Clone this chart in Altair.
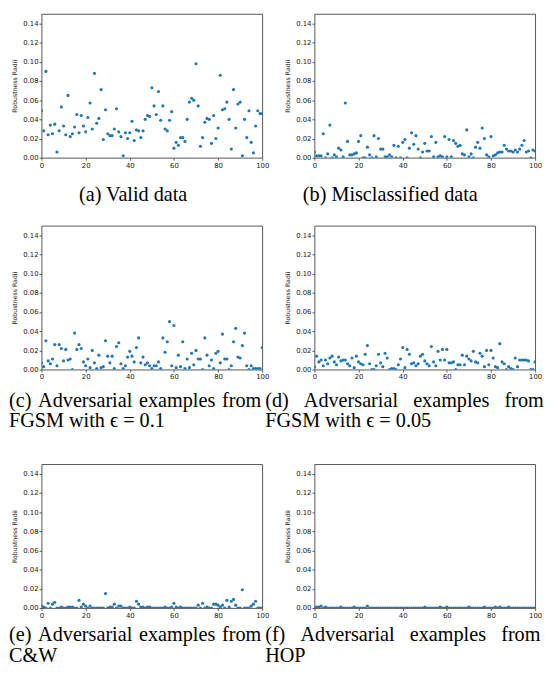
import altair as alt
import pandas as pd

x_ticks = [0, 20, 40, 60, 80, 100]
y_ticks = [0.00, 0.02, 0.04, 0.06, 0.08, 0.10, 0.12, 0.14]
y_title = "Robustness Radii"

valid = [0.049, 0.028, 0.090, 0.024, 0.034, 0.025, 0.035, 0.006, 0.028, 0.053,
         0.033, 0.024, 0.065, 0.022, 0.025, 0.032, 0.045, 0.026, 0.044, 0.033,
         0.027, 0.042, 0.057, 0.030, 0.088, 0.036, 0.041, 0.071, 0.019, 0.050,
         0.025, 0.023, 0.023, 0.030, 0.051, 0.027, 0.022, 0.002, 0.026, 0.020,
         0.026, 0.038, 0.018, 0.029, 0.028, 0.021, 0.028, 0.040, 0.044, 0.043,
         0.073, 0.054, 0.045, 0.069, 0.039, 0.054, 0.030, 0.028, 0.039, 0.048,
         0.010, 0.016, 0.013, 0.021, 0.021, 0.017, 0.040, 0.058, 0.062, 0.060,
         0.098, 0.054, 0.012, 0.021, 0.037, 0.041, 0.040, 0.015, 0.044, 0.020,
         0.031, 0.086, 0.050, 0.051, 0.058, 0.040, 0.009, 0.071, 0.031, 0.056,
         0.058, 0.002, 0.040, 0.021, 0.049, 0.016, 0.005, 0.033, 0.049, 0.046,
         0.046]

misclassified = [0.006, 0.002, 0.002, 0.002, 0.025, 0.000, 0.004, 0.034, 0.000, 0.003,
                 0.001, 0.010, 0.008, 0.001, 0.057, 0.017, 0.003, 0.003, 0.004, 0.005,
                 0.017, 0.023, 0.000, 0.000, 0.011, 0.003, 0.000, 0.023, 0.001, 0.020,
                 0.009, 0.009, 0.001, 0.001, 0.003, 0.001, 0.013, 0.000, 0.012, 0.000,
                 0.016, 0.019, 0.000, 0.010, 0.026, 0.014, 0.023, 0.009, 0.000, 0.006,
                 0.015, 0.007, 0.007, 0.022, 0.001, 0.016, 0.001, 0.002, 0.001, 0.022,
                 0.001, 0.019, 0.001, 0.018, 0.015, 0.012, 0.013, 0.004, 0.003, 0.029,
                 0.001, 0.004, 0.000, 0.011, 0.016, 0.010, 0.031, 0.020, 0.003, 0.001,
                 0.022, 0.002, 0.003, 0.005, 0.006, 0.006, 0.013, 0.009, 0.007, 0.007,
                 0.006, 0.008, 0.006, 0.009, 0.013, 0.018, 0.006, 0.007, 0.000, 0.008,
                 0.007]

fgsm_01 = [0.007, 0.003, 0.030, 0.009, 0.006, 0.011, 0.026, 0.004, 0.026, 0.022,
           0.009, 0.021, 0.010, 0.011, 0.000, 0.038, 0.021, 0.026, 0.022, 0.008,
           0.004, 0.011, 0.002, 0.020, 0.007, 0.001, 0.015, 0.002, 0.003, 0.030,
           0.014, 0.007, 0.014, 0.001, 0.024, 0.028, 0.006, 0.001, 0.004, 0.013,
           0.019, 0.014, 0.008, 0.023, 0.033, 0.007, 0.013, 0.005, 0.007, 0.004,
           0.001, 0.004, 0.004, 0.008, 0.001, 0.033, 0.018, 0.029, 0.050, 0.004,
           0.046, 0.002, 0.015, 0.003, 0.029, 0.001, 0.011, 0.002, 0.017, 0.005,
           0.020, 0.011, 0.011, 0.000, 0.033, 0.015, 0.004, 0.010, 0.001, 0.017,
           0.019, 0.007, 0.037, 0.011, 0.011, 0.000, 0.004, 0.029, 0.043, 0.013,
           0.012, 0.025, 0.038, 0.004, 0.000, 0.004, 0.001, 0.001, 0.001, 0.001,
           0.023]

fgsm_005 = [0.003, 0.014, 0.008, 0.010, 0.004, 0.010, 0.006, 0.012, 0.014, 0.008,
            0.005, 0.013, 0.009, 0.010, 0.010, 0.006, 0.004, 0.012, 0.002, 0.014,
            0.008, 0.006, 0.005, 0.016, 0.025, 0.006, 0.000, 0.000, 0.004, 0.016,
            0.007, 0.003, 0.017, 0.012, 0.000, 0.001, 0.001, 0.000, 0.005, 0.011,
            0.023, 0.002, 0.021, 0.016, 0.006, 0.007, 0.004, 0.006, 0.014, 0.016,
            0.009, 0.006, 0.004, 0.024, 0.008, 0.004, 0.019, 0.010, 0.021, 0.010,
            0.021, 0.007, 0.007, 0.008, 0.000, 0.005, 0.005, 0.015, 0.005, 0.014,
            0.011, 0.009, 0.019, 0.008, 0.007, 0.017, 0.014, 0.003, 0.020, 0.005,
            0.020, 0.012, 0.003, 0.002, 0.027, 0.008, 0.006, 0.000, 0.003, 0.001,
            0.000, 0.012, 0.003, 0.010, 0.010, 0.010, 0.010, 0.009, 0.000, 0.000,
            0.008]

cw = [0.002, 0.001, 0.000, 0.005, 0.000, 0.004, 0.006, 0.000, 0.000, 0.001,
      0.000, 0.000, 0.001, 0.001, 0.001, 0.000, 0.000, 0.008, 0.001, 0.004,
      0.002, 0.000, 0.002, 0.000, 0.000, 0.000, 0.000, 0.000, 0.000, 0.015,
      0.000, 0.001, 0.001, 0.004, 0.000, 0.002, 0.002, 0.000, 0.000, 0.000,
      0.001, 0.000, 0.000, 0.007, 0.004, 0.001, 0.001, 0.000, 0.001, 0.001,
      0.000, 0.000, 0.000, 0.000, 0.000, 0.000, 0.001, 0.000, 0.000, 0.001,
      0.005, 0.001, 0.000, 0.001, 0.000, 0.000, 0.000, 0.000, 0.000, 0.000,
      0.000, 0.003, 0.000, 0.005, 0.000, 0.001, 0.000, 0.000, 0.004, 0.004,
      0.003, 0.001, 0.003, 0.000, 0.008, 0.001, 0.007, 0.009, 0.003, 0.000,
      0.000, 0.019, 0.000, 0.000, 0.000, 0.002, 0.004, 0.007, 0.000, 0.000,
      0.000]

hop = [0.000, 0.001, 0.001, 0.002, 0.000, 0.001, 0.000, 0.000, 0.000, 0.000,
       0.000, 0.000, 0.001, 0.000, 0.000, 0.000, 0.000, 0.000, 0.001, 0.000,
       0.000, 0.000, 0.000, 0.000, 0.002, 0.000, 0.000, 0.000, 0.000, 0.000,
       0.000, 0.000, 0.000, 0.000, 0.000, 0.000, 0.000, 0.000, 0.000, 0.000,
       0.000, 0.000, 0.000, 0.000, 0.000, 0.000, 0.000, 0.000, 0.000, 0.000,
       0.001, 0.000, 0.000, 0.000, 0.000, 0.000, 0.000, 0.001, 0.000, 0.000,
       0.001, 0.000, 0.000, 0.000, 0.000, 0.000, 0.000, 0.000, 0.000, 0.000,
       0.001, 0.000, 0.000, 0.000, 0.000, 0.000, 0.000, 0.001, 0.000, 0.000,
       0.000, 0.000, 0.001, 0.000, 0.001, 0.000, 0.000, 0.000, 0.001, 0.000,
       0.000, 0.000, 0.000, 0.000, 0.000, 0.000, 0.000, 0.000, 0.000, 0.000,
       0.000]

SP_L = " \u200a"          # justified word gap, left column
SP_R = " \u2004\u2006"    # justified word gap, right column

cap_a = ["(a) Valid data"]
cap_b = ["(b) Misclassified data"]
cap_c = [SP_L.join(["(c)", "Adversarial", "examples", "from"]), "FGSM with \u03f5 = 0.1"]
cap_d = [SP_R.join(["(d)", "Adversarial", "examples", "from"]), "FGSM with \u03f5 = 0.05"]
cap_e = [SP_L.join(["(e)", "Adversarial", "examples", "from"]), "C&W"]
cap_f = [SP_R.join(["(f)", "Adversarial", "examples", "from"]), "HOP"]

W, H = 224, 146


def panel(values, caption, anchor, dx, offset):
    df = pd.DataFrame({"index": list(range(len(values))), "radius": values})
    title = alt.TitleParams(
        text=caption, orient="bottom", anchor=anchor, frame="group",
        dx=dx, offset=offset, font="Liberation Serif", fontSize=20.5,
        fontWeight="normal", color="black", lineHeight=21,
    )
    return alt.Chart(df, title=title).mark_circle(
        size=10, color="#1f77b4", opacity=1, clip=True
    ).encode(
        x=alt.X("index:Q",
                scale=alt.Scale(domain=[0, 100], nice=False, zero=False),
                axis=alt.Axis(values=x_ticks, format="d", title=None)),
        y=alt.Y("radius:Q",
                scale=alt.Scale(domain=[0, 0.15], nice=False),
                axis=alt.Axis(values=y_ticks, format=".2f", title=y_title)),
    ).properties(width=W, height=H)


row1 = alt.hconcat(panel(valid, cap_a, "middle", -19, 17),
                   panel(misclassified, cap_b, "middle", -35, 17),
                   spacing=53, bounds="flush")
row2 = alt.hconcat(panel(fgsm_01, cap_c, "start", -33, 11),
                   panel(fgsm_005, cap_d, "start", -50, 11),
                   spacing=53, bounds="flush")
row3 = alt.hconcat(panel(cw, cap_e, "start", -33, 7),
                   panel(hop, cap_f, "start", -50, 7),
                   spacing=53, bounds="flush")

lower = alt.vconcat(row2, row3, spacing=31)
chart = alt.vconcat(row1, lower, spacing=19).properties(
    padding=0
).configure_view(
    stroke="#444", strokeWidth=0.9
).configure_axis(
    grid=False, domain=False,
    labelFont="DejaVu Sans", labelFontSize=7, labelColor="#222",
    labelPadding=1, labelFlush=False, labelOverlap=False,
    tickSize=2.5, tickColor="#333", tickWidth=0.8,
    titleFont="DejaVu Sans", titleFontSize=6.3, titleFontWeight="normal",
    titleColor="#222", titlePadding=5,
)

chart.save("out.html", embed_options={"renderer": "svg", "actions": False})
